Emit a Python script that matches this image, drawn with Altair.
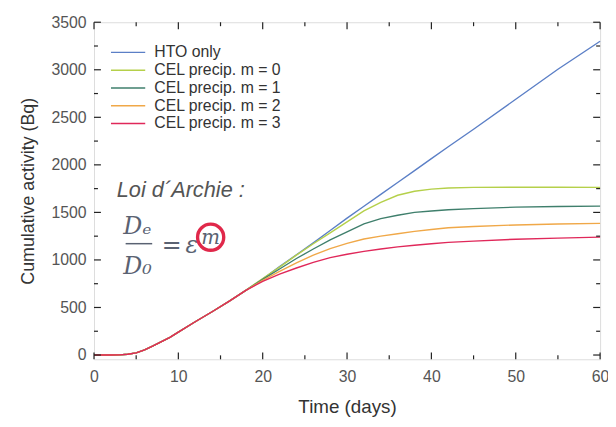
import altair as alt
import pandas as pd

# ---- data ----
time = [0, 2, 3, 4, 5, 6, 7, 8, 9, 10, 12, 14, 16, 18, 20, 22, 24, 26, 28, 30,
        32, 34, 36, 38, 40, 42, 45, 50, 55, 60]
early = [0, 0, 2, 8, 22, 55, 95, 140, 185, 240, 350, 455, 565, 680]
hto = early + [800, 930, 1055, 1180, 1310, 1440, 1565, 1690, 1815, 1940, 2065, 2190, 2375, 2690, 3005, 3300]
m0 = early + [805, 925, 1050, 1170, 1285, 1400, 1515, 1605, 1680, 1722, 1745, 1757, 1763, 1765, 1765, 1763]
m1 = early + [795, 905, 1015, 1115, 1210, 1295, 1380, 1435, 1470, 1500, 1515, 1528, 1540, 1555, 1562, 1566]
m2 = early + [785, 880, 970, 1050, 1120, 1175, 1220, 1250, 1275, 1300, 1320, 1338, 1352, 1368, 1378, 1385]
m3 = early + [775, 850, 915, 975, 1025, 1060, 1090, 1115, 1138, 1155, 1170, 1185, 1198, 1218, 1230, 1240]

series_names = ["HTO only", "CEL precip. m = 0", "CEL precip. m = 1",
                "CEL precip. m = 2", "CEL precip. m = 3"]
series_values = [hto, m0, m1, m2, m3]
series_colors = ["#5b7fc6", "#b5d04a", "#3f7f6c", "#f0a848", "#e0285a"]

x_major = [0, 10, 20, 30, 40, 50, 60]
x_minor = [5, 15, 25, 35, 45, 55]
y_major = [0, 500, 1000, 1500, 2000, 2500, 3000, 3500]
y_minor = [250, 750, 1250, 1750, 2250, 2750, 3250]

# annotation (data coordinates)
ann_title = "Loi d\u00b4Archie :"
ann_title_pos = (2.7, 1733)
frac_num = ("D\u2091", 5.15, 1275)
frac_den = ("D\u2080", 5.15, 849)
frac_bar = (3.75, 6.9, 1171)
eq_sign = ("=", 9.2, 1150)
eps = ("\u03b5", 11.6, 1150)
circ = ("m", 13.83, 1239)

W, H = 512, 341
FONT = "Liberation Sans"

rows = []
for name, vals in zip(series_names, series_values):
    for t, v in zip(time, vals):
        rows.append({"t": t, "v": v, "series": name})
df = pd.DataFrame(rows)

xs = alt.Scale(domain=[0, 60], nice=False, zero=False)
ys = alt.Scale(domain=[-45, 3500], nice=False, zero=False)

lines = alt.Chart(df).mark_line(strokeWidth=1.4).encode(
    x=alt.X("t:Q", scale=xs, axis=alt.Axis(
        title="Time (days)", values=x_major, ticks=False, domain=False, grid=False,
        labelFlush=False, labelPadding=9, titlePadding=14, labelFontSize=16,
        titleFontSize=19, labelColor="#555", titleColor="#333", labelFont=FONT,
        titleFont=FONT, titleFontWeight="normal", format="d")),
    y=alt.Y("v:Q", scale=ys, axis=alt.Axis(
        title="Cumulative activity (Bq)", values=y_major, ticks=False, domain=False,
        grid=False, labelFlush=False, labelPadding=8, titlePadding=14, labelFontSize=16,
        titleFontSize=18, labelColor="#555", titleColor="#333", labelFont=FONT,
        titleFont=FONT, titleFontWeight="normal", format="d")),
    color=alt.Color("series:N", sort=series_names,
                    scale=alt.Scale(domain=series_names, range=series_colors),
                    legend=alt.Legend(title=None, orient="none", legendX=25, legendY=21,
                                      padding=0, symbolType="M-2,0H2", symbolSize=300,
                                      symbolStrokeWidth=1.5, labelFontSize=16,
                                      labelColor="#333", labelFont=FONT,
                                      rowPadding=0, labelOffset=17)),
    order=alt.Order("t:Q"),
)

# inside ticks on all four sides
xmaj = pd.DataFrame({"t": x_major}); xmin = pd.DataFrame({"t": x_minor})
ymaj = pd.DataFrame({"v": y_major}); ymin = pd.DataFrame({"v": y_minor})

tick_layers = []
for d, L in [(xmaj, 7), (xmin, 4)]:
    tick_layers.append(alt.Chart(d).mark_rule(color="#222", strokeWidth=1.2).encode(
        x=alt.X("t:Q", scale=xs), y=alt.value(H), y2=alt.value(H - L)))
    tick_layers.append(alt.Chart(d).mark_rule(color="#222", strokeWidth=1.2).encode(
        x=alt.X("t:Q", scale=xs), y=alt.value(0), y2=alt.value(L)))
for d, L in [(ymaj, 7), (ymin, 4)]:
    tick_layers.append(alt.Chart(d).mark_rule(color="#222", strokeWidth=1.2).encode(
        y=alt.Y("v:Q", scale=ys), x=alt.value(0), x2=alt.value(L)))
    tick_layers.append(alt.Chart(d).mark_rule(color="#222", strokeWidth=1.2).encode(
        y=alt.Y("v:Q", scale=ys), x=alt.value(W), x2=alt.value(W - L)))

# annotation
title_df = pd.DataFrame({"t": [ann_title_pos[0]], "v": [ann_title_pos[1]], "s": [ann_title]})
ann_title_mark = alt.Chart(title_df).mark_text(
    align="left", baseline="middle", fontSize=22, fontStyle="italic", font=FONT,
    color="#555").encode(x=alt.X("t:Q", scale=xs), y=alt.Y("v:Q", scale=ys), text="s:N")

frac_df = pd.DataFrame({"s": [frac_num[0], frac_den[0]],
                        "t": [frac_num[1], frac_den[1]],
                        "v": [frac_num[2], frac_den[2]]})
frac_mark = alt.Chart(frac_df).mark_text(
    align="center", baseline="alphabetic", fontSize=24, fontStyle="italic",
    font="DejaVu Serif", color="#5a6272").encode(
    x=alt.X("t:Q", scale=xs), y=alt.Y("v:Q", scale=ys), text="s:N")

sym_df = pd.DataFrame({"s": [eq_sign[0], eps[0]], "t": [eq_sign[1], eps[1]],
                       "v": [eq_sign[2], eps[2]]})
sym_mark = alt.Chart(sym_df).mark_text(
    align="center", baseline="middle", fontSize=24, fontStyle="italic",
    font="DejaVu Serif", color="#5a6272").encode(
    x=alt.X("t:Q", scale=xs), y=alt.Y("v:Q", scale=ys), text="s:N")

bar_df = pd.DataFrame({"t": [frac_bar[0]], "t2": [frac_bar[1]], "v": [frac_bar[2]]})
bar_mark = alt.Chart(bar_df).mark_rule(color="#5a6272", strokeWidth=1.5).encode(
    x=alt.X("t:Q", scale=xs), x2="t2:Q", y=alt.Y("v:Q", scale=ys))

circ_df = pd.DataFrame({"t": [circ[1]], "v": [circ[2]], "s": [circ[0]]})
circ_mark = alt.Chart(circ_df).mark_point(
    shape="circle", filled=True, size=700, fill="white", stroke="#e0284a",
    strokeWidth=3.4, opacity=1).encode(x=alt.X("t:Q", scale=xs), y=alt.Y("v:Q", scale=ys))
m_mark = alt.Chart(circ_df).mark_text(
    align="center", baseline="middle", fontSize=20, fontStyle="italic",
    font="DejaVu Serif", color="#5a6272", dy=1).encode(
    x=alt.X("t:Q", scale=xs), y=alt.Y("v:Q", scale=ys), text="s:N")

chart = alt.layer(
    lines, *tick_layers, ann_title_mark, frac_mark, sym_mark, bar_mark, circ_mark, m_mark
).properties(
    width=W, height=H,
    autosize=alt.AutoSizeParams(type="none"),
    padding={"left": 87, "top": 12, "right": 8, "bottom": 58},
).configure_view(
    stroke="#222", strokeWidth=1.5
).configure(background="white")

chart.save("out.html", embed_options={"renderer": "svg", "actions": False})
